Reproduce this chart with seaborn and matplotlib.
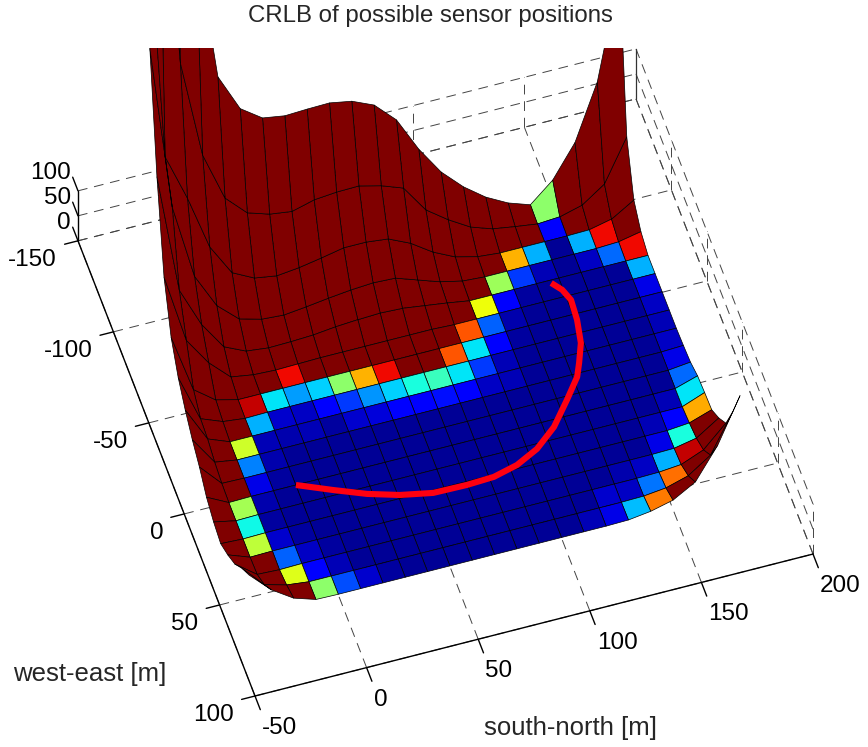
import numpy as np
import matplotlib
matplotlib.use("Agg")
import matplotlib.pyplot as plt
from matplotlib.patches import Rectangle
from mpl_toolkits.mplot3d import proj3d
import seaborn as sns

sns.set_theme(style="white")
plt.rcParams["font.family"] = ["Liberation Sans", "DejaVu Sans"]

# grid nodes of the surface
grid_x = [-40,-30,-20,-10,0,10,20,30,40,50,60,70,80,90,100,110,120,130,140,150,160,170,180]
grid_y = [-110,-100,-90,-80,-70,-60,-50,-40,-30,-20,-10,0,10,20,30,40,50,60]

# height at the nodes, one row per grid_y
height = [
    [2500,1800,1200,700,417,342,312,305,307,308,300,281,240,170,113,72,40,17,2,40,104,214,420],
    [1500,1050,504,308,211,170,156,150,162,166,167,156,140,85,54,28,13,6,0,3,15,46,129],
    [1000,364,270,161,98,76,69,74,82,91,91,86,66,37,16,5,1,1,1,1,2,12,39],
    [628,300,150,80,42,30,27,32,38,43,46,44,29,14,4,1,1,1,1,1,1,3,12],
    [408,170,90,34,14,9,10,12,17,20,22,20,14,8,1,1,1,1,1,1,1,1,1],
    [244,106,50,10,3,1,2,3,3,3,3,3,3,1,1,1,1,1,1,1,1,1,1],
    [160,44,12,1,1,1,1,1,1,1,1,1,1,1,1,1,1,1,1,1,1,1,1],
    [116,22,5,0,1,1,1,1,1,1,1,1,1,1,1,1,1,1,1,1,1,1,1],
    [87,18,1,1,1,1,1,1,1,1,1,1,1,1,1,1,1,1,1,1,1,1,1],
    [64,8,1,1,1,1,1,1,1,1,1,1,1,1,1,1,1,1,1,1,1,1,3],
    [46,2,1,1,1,1,1,1,1,1,1,1,1,1,1,1,1,1,1,1,1,1,6],
    [22,0,1,1,1,1,1,1,1,1,1,1,1,1,1,1,1,1,1,1,1,1,15],
    [9,0,1,1,1,1,1,1,1,1,1,1,1,1,1,1,1,1,1,1,1,1,18],
    [2,0,1,1,1,1,1,1,1,1,1,1,1,1,1,1,1,1,1,1,1,5,20],
    [16,0,1,1,1,1,1,1,1,1,1,1,1,1,1,1,1,1,1,1,2,11,40],
    [34,2,0,1,1,1,1,1,1,1,1,1,1,1,1,1,1,1,1,2,6,24,66],
    [62,18,6,1,1,1,1,1,1,1,1,1,1,1,1,1,1,1,2,7,20,50,126],
    [85,44,16,2,1,1,1,1,1,1,1,1,1,1,1,1,1,2,8,19,44,106,194],
]

# colour level of each cell (percent of the colour range)
crlb = [
    [100,100,100,100,100,100,100,100,100,100,100,100,100,100,100,100,100,100,52,100,100,100],
    [100,100,100,100,100,100,100,100,100,100,100,100,100,100,100,100,100,100,11,100,100,100],
    [100,100,100,100,100,100,100,100,100,100,100,100,100,100,100,100,72,30,2,30,90,100],
    [100,100,100,100,100,100,100,100,100,100,100,100,100,100,100,54,18,5,2,6,23,90],
    [100,100,100,100,100,100,100,100,100,100,100,100,100,100,64,12,3,2,2,2,2,30],
    [100,100,100,100,100,90,100,100,100,100,100,100,100,82,22,4,2,2,2,2,2,9],
    [100,100,100,94,35,28,33,52,72,90,100,100,82,35,11,3,2,2,2,2,2,6],
    [100,100,100,30,7,6,11,18,27,33,38,42,35,18,5,2,2,2,2,2,2,5],
    [100,100,60,5,4,5,3,7,8,11,12,14,12,6,5,2,2,2,2,2,2,6],
    [100,100,25,4,2,2,2,2,2,2,2,2,2,2,2,2,2,2,2,2,2,9],
    [100,100,9,3,2,2,2,2,2,2,2,2,2,2,2,2,2,2,2,2,2,23],
    [100,55,4,2,2,2,2,2,2,2,2,2,2,2,2,2,2,2,2,2,5,35],
    [100,37,3,2,2,2,2,2,2,2,2,2,2,2,2,2,2,2,2,5,12,73],
    [100,58,7,3,2,2,2,2,2,2,2,2,2,2,2,2,2,2,2,9,38,100],
    [100,100,22,6,3,2,2,2,2,2,2,2,2,2,2,2,2,4,6,30,94,100],
    [100,100,62,11,5,2,2,2,2,2,2,2,2,2,2,2,7,6,24,79,100,100],
    [100,100,100,52,20,7,3,2,2,2,2,2,2,2,2,5,9,31,78,100,100,100],
]

# sensor track
track_x = [-0.1,14.2,27.5,40.7,54.6,69.6,81.9,93.2,103.9,114.3,123.9,131.7,134.7,138.6,140.7,141.4,139.4,136]
track_y = [0.5,7.7,14,18.7,21.9,22.2,21.6,18.6,13.1,4.3,-7.6,-17.8,-24.5,-34.3,-46.3,-57,-63.2,-68]

x_ticks = [-50,0,50,100,150,200]
y_ticks = [-150,-100,-50,0,50,100]
z_ticks = [0,50,100]

fig = plt.figure(figsize=(8.68,7.47), dpi=100)
ax = fig.add_axes([0.1,0.1,0.8,0.8], projection="3d", computed_zorder=False)
ax.set_proj_type("ortho")
ax.view_init(elev=53.98, azim=-107.46)
ax.set_xlim(-50,200, view_margin=0)
ax.set_ylim(100,-150, view_margin=0)
ax.set_zlim(0,100, view_margin=0)
ax.set_box_aspect((585,590,85))
ax.set_axis_off()

def to_px(x, y, z):
    px, py, _ = proj3d.proj_transform(x, y, z, ax.get_proj())
    return ax.transData.transform((px, py))

# line the box up with the reference pixels (bottom corner, right corner)
target_a = np.array([255, 747-696])
target_b = np.array([813, 747-554])
ax.apply_aspect()
a, b = to_px(-50,100,0), to_px(200,100,0)
size = ax.get_position().width*868*np.linalg.norm(target_b-target_a)/np.linalg.norm(b-a)
ax.set_position([0.1,0.1,size/868,size/747])
ax.apply_aspect()
a = to_px(-50,100,0)
pos = ax.get_position()
shift = target_a-a
ax.set_position([pos.x0+shift[0]/868,pos.y0+shift[1]/747,pos.width,pos.height])
ax.apply_aspect()

# dashed grid on floor and the two back walls
grid_style = dict(color="#444444", lw=0.7, ls=(0,(10,7)), zorder=0)
for t in x_ticks:
    ax.plot([t,t],[100,-150],[0,0],**grid_style)
    ax.plot([t,t],[-150,-150],[0,100],**grid_style)
for t in y_ticks:
    ax.plot([-50,200],[t,t],[0,0],**grid_style)
    ax.plot([200,200],[t,t],[0,100],**grid_style)
for t in z_ticks:
    ax.plot([-50,200],[-150,-150],[t,t],**grid_style)
    ax.plot([200,200],[-150,100],[t,t],**grid_style)

# solid axis lines and ticks
axis_style = dict(color="black", lw=1.0, zorder=1)
ax.plot([-50,200],[100,100],[0,0],**axis_style)
ax.plot([-50,-50],[100,-150],[0,0],**axis_style)
ax.plot([-50,-50],[-150,-150],[0,100],**axis_style)
ax.plot([200,200],[-150,-150],[0,100],color="#333333",lw=0.9,zorder=1)
for t in x_ticks:
    ax.plot([t,t],[100,107.5],[0,0],**axis_style)
for t in y_ticks:
    ax.plot([-50,-56],[t,t],[0,0],**axis_style)
for t in z_ticks:
    ax.plot([-50,-50],[-150,-157.5],[t,t],**axis_style)

# surface, coloured cell by cell
jet = matplotlib.colormaps["jet"]
X, Y = np.meshgrid(grid_x, grid_y)
Z = np.array(height, dtype=float)
surf = ax.plot_surface(X, Y, Z, rstride=1, cstride=1, shade=False,
                       facecolors=jet(np.array(crlb)/100.0), zorder=2)
surf.set_edgecolor("black")
surf.set_linewidth(0.5)
surf.set_clip_path(Rectangle((0,0),1,1-48/747,transform=fig.transFigure))

ax.plot(track_x, track_y, [3]*len(track_x), color="#ff0010", lw=4.4,
        solid_capstyle="butt", solid_joinstyle="round", zorder=3)

# tick labels, offset in pixels from the tick on screen
def tick_label(txt, x, y, z, dx, dy, ha):
    px, py, _ = proj3d.proj_transform(x, y, z, ax.get_proj())
    ax.annotate(txt, xy=(px,py), xycoords="data", xytext=(dx,dy),
                textcoords="offset pixels", ha=ha, va="center",
                fontsize=17.5, color="black", annotation_clip=False)

for t in x_ticks:
    tick_label(str(t), t, 100, 0, 7, -32, "left")
for t in y_ticks:
    tick_label(str(t), -50, t, 0, -21, -19, "right")
for t in z_ticks:
    tick_label(str(t), -50, -150, t, -7, 18, "right")

fig.text(430/868, 1-16/747, "CRLB of possible sensor positions", ha="center", va="center", fontsize=17.3)
fig.text(89.5/868, 1-674/747, "west-east [m]", ha="center", va="center", fontsize=18.5)
fig.text(570/868, 1-728/747, "south-north [m]", ha="center", va="center", fontsize=18.5)

fig.savefig("out.png", dpi=100)
